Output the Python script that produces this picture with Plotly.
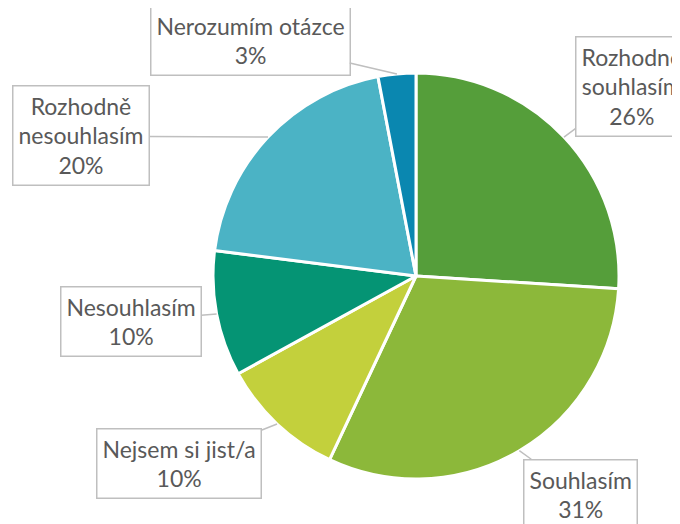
import math
import plotly.graph_objects as go

labels = ["Rozhodně<br>souhlasím", "Souhlasím", "Nejsem si jist/a", "Nesouhlasím",
          "Rozhodně<br>nesouhlasím", "Nerozumím otázce"]
values = [26, 31, 10, 10, 20, 3]
colors = ["#559E3A", "#8CB83A", "#C3D03C", "#059474", "#4BB3C5", "#0A87B0"]

# callout box centres, in page pixels
box_pos = [(632, 87), (580, 494), (179, 463), (131, 321), (81, 136), (250, 40)]

W, H = 680, 524
OFF = 8  # page body margin in front of the plot div
cx, cy, r = 416 - OFF, 276 - OFF, 203

fig = go.Figure(go.Pie(
    labels=labels, values=values, sort=False, direction="clockwise", rotation=0,
    marker=dict(colors=colors, line=dict(color="white", width=3)),
    textinfo="none", hoverinfo="label+percent", showlegend=False,
    domain=dict(x=[(cx - r) / W, (cx + r) / W], y=[1 - (cy + r) / H, 1 - (cy - r) / H]),
))

total = sum(values)
cum = 0
for lab, v, (bx, by) in zip(labels, values, box_pos):
    mid = (cum + v / 2) / total * 2 * math.pi
    cum += v
    tx = cx + r * math.sin(mid)
    ty = cy - r * math.cos(mid)
    fig.add_annotation(
        x=tx / W, y=1 - ty / H, xref="paper", yref="paper",
        ax=bx - OFF - tx, ay=by - OFF - ty, axref="pixel", ayref="pixel",
        text=f"{lab}<br>{round(v / total * 100)}%",
        showarrow=True, arrowhead=0, arrowwidth=1.5, arrowcolor="#BFBFBF",
        font=dict(family="Lato", size=23, color="#595959"),
        bordercolor="#BFBFBF", borderwidth=1.5, borderpad=5, bgcolor="white",
        align="center",
    )

fig.update_layout(width=W, height=H, margin=dict(l=0, r=0, t=0, b=0),
                  paper_bgcolor="white", plot_bgcolor="white")
fig.write_html("out.html")
